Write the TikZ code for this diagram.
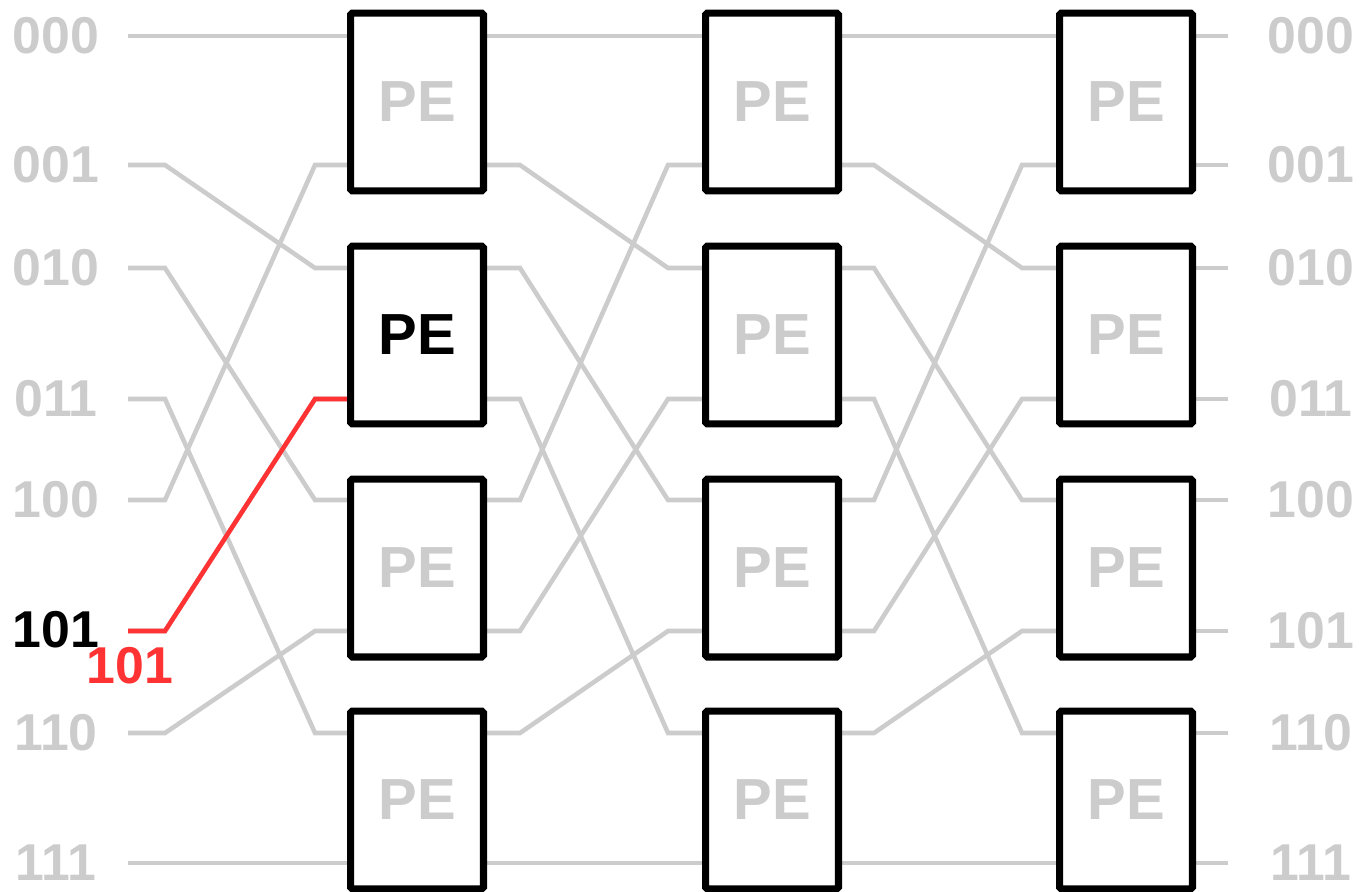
\documentclass[tikz,border=0pt]{standalone}
\usepackage{fontspec}
\setmainfont{Liberation Sans}

\definecolor{wiregray}{HTML}{CCCCCC}
\definecolor{pathred}{HTML}{FF3333}

\tikzset{
  pebox/.style={draw=black, line width=4pt, rounded corners=1pt, fill=white,
    minimum width=2.66cm, minimum height=3.56cm, inner sep=0pt,
    font=\fontsize{33}{33}\selectfont\bfseries, text=wiregray},
  addr/.style={font=\fontsize{29.5}{30}\selectfont\bfseries, text=wiregray, inner sep=0pt},
  wire/.style={draw=wiregray, line width=2.6pt},
}

\begin{document}
\begin{tikzpicture}[x=0.02cm, y=-0.02cm]
        \useasboundingbox (0,0) rectangle (1360,892);

        % ports: t = terminals, a = stage inputs, b = stage outputs
        \foreach \y [count=\r from 0] in {36,165,268,399,500,631,733,863} {
          \coordinate (t0-\r) at (128,\y);
          \coordinate (a1-\r) at (350,\y);
          \coordinate (b1-\r) at (484,\y);
          \coordinate (a2-\r) at (705,\y);
          \coordinate (b2-\r) at (838,\y);
          \coordinate (a3-\r) at (1059,\y);
          \coordinate (b3-\r) at (1192,\y);
          \coordinate (t4-\r) at (1228,\y);
        }

        % perfect shuffle between the stages
        \foreach \r in {0,...,7} {
          \pgfmathtruncatemacro{\s}{mod(2*\r,8)+int(\r/4)}
          \draw [wire] (t0-\r) -- ++(37,0) -- ([xshift=-0.7cm]a1-\s) -- (a1-\s);
          \draw [wire] (b1-\r) -- ++(36,0) -- ([xshift=-0.74cm]a2-\s) -- (a2-\s);
          \draw [wire] (b2-\r) -- ++(36,0) -- ([xshift=-0.74cm]a3-\s) -- (a3-\s);
          \draw [wire] (b3-\r) -- (t4-\r);
        }
        \draw [wire, draw=pathred] (t0-5) -- ++(37,0) -- ([xshift=-0.7cm]a1-3) -- (a1-3);

        \node [pebox] (pe1-0) at (417,102) {PE};
        \node [pebox, text=black] (pe1-1) at (417,335) {PE};
        \node [pebox] (pe1-2) at (417,568) {PE};
        \node [pebox] (pe1-3) at (417,800) {PE};
        \node [pebox] (pe2-0) at (772,102) {PE};
        \node [pebox] (pe2-1) at (772,335) {PE};
        \node [pebox] (pe2-2) at (772,568) {PE};
        \node [pebox] (pe2-3) at (772,800) {PE};
        \node [pebox] (pe3-0) at (1126,102) {PE};
        \node [pebox] (pe3-1) at (1126,335) {PE};
        \node [pebox] (pe3-2) at (1126,568) {PE};
        \node [pebox] (pe3-3) at (1126,800) {PE};

        \node [addr] (in0) at (56,36) {000};
        \node [addr] (in1) at (56,165) {001};
        \node [addr] (in2) at (56,268) {010};
        \node [addr] (in3) at (56,399) {011};
        \node [addr] (in4) at (56,500) {100};
        \node [addr, text=black] (in5) at (56,630) {101};
        \node [addr] (in6) at (56,733) {110};
        \node [addr] (in7) at (56,863) {111};
        \node [addr, text=pathred] (dest) at (130,666) {101};

        \node [addr] (out0) at (1311,36) {000};
        \node [addr] (out1) at (1311,165) {001};
        \node [addr] (out2) at (1311,268) {010};
        \node [addr] (out3) at (1311,399) {011};
        \node [addr] (out4) at (1311,500) {100};
        \node [addr] (out5) at (1311,631) {101};
        \node [addr] (out6) at (1311,733) {110};
        \node [addr] (out7) at (1311,863) {111};

\end{tikzpicture}
\end{document}
